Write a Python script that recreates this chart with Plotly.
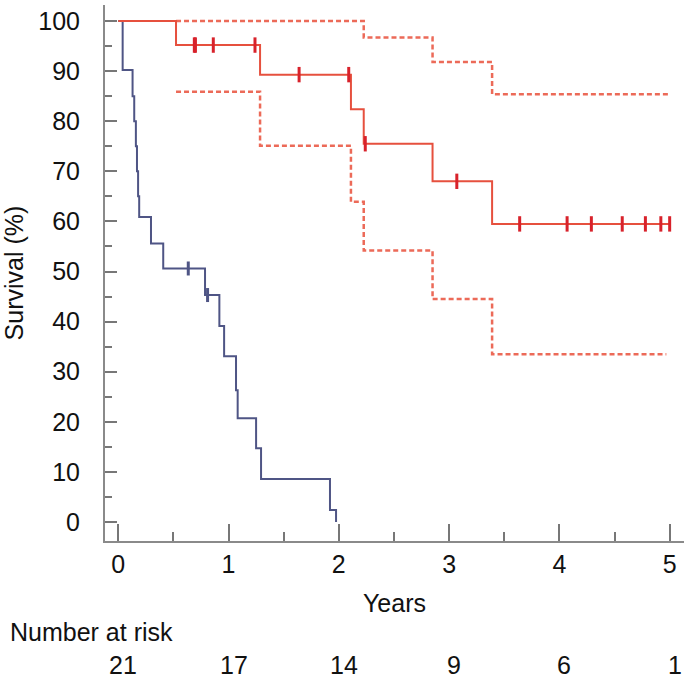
import numpy as np
import plotly.graph_objects as go

# Kaplan-Meier curve, group 1 (red) with 95% CI
red_t = [0, 0.524, 1.286, 2.11, 2.226, 2.85, 3.39, 5.0]
red_s = [100, 95.2, 89.3, 82.4, 75.5, 68.0, 59.5, 59.5]
red_cens = [0.69, 0.70, 0.862, 1.24, 1.64, 2.09, 2.24, 3.07, 3.64, 4.07, 4.29, 4.57, 4.78, 4.92, 5.0]

upper_t = [0.524, 2.226, 2.85, 3.39, 5.0]
upper_s = [100, 96.7, 91.8, 85.4, 85.4]
lower_t = [0.524, 1.286, 2.11, 2.226, 2.85, 3.39, 4.97]
lower_s = [85.9, 75.1, 63.9, 54.2, 44.5, 33.5, 33.5]

# group 2 (blue)
blue_t = [0, 0.04, 0.13, 0.145, 0.16, 0.17, 0.18, 0.19, 0.297, 0.408, 0.787,
          0.917, 0.96, 1.068, 1.083, 1.25, 1.295, 1.92, 1.975]
blue_s = [100, 90.2, 85, 80, 75, 70, 65, 60.9, 55.6, 50.6, 45.3,
          39.1, 33.1, 26.3, 20.7, 14.7, 8.6, 2.4, 0]
blue_cens = [0.635, 0.81]

risk_years = [0, 1, 2, 3, 4, 5]
risk_n = [21, 17, 14, 9, 6, 1]

RED = "#e6503e"
RED_DARK = "#d8222b"
RED_CI = "#ec6a58"
BLUE = "#4f5585"
FONT = "Liberation Sans"
FS = 25


def step_at(ts, ss, q):
    idx = np.searchsorted(ts, q, side="right") - 1
    return [ss[i] for i in idx]


fig = go.Figure()

fig.add_trace(go.Scatter(x=upper_t, y=upper_s, mode="lines", line_shape="hv",
                         line=dict(color=RED_CI, width=2.5, dash="5px,3px")))
fig.add_trace(go.Scatter(x=lower_t, y=lower_s, mode="lines", line_shape="hv",
                         line=dict(color=RED_CI, width=2.5, dash="5px,3px")))
fig.add_trace(go.Scatter(x=blue_t, y=blue_s, mode="lines", line_shape="hv",
                         line=dict(color=BLUE, width=2)))
fig.add_trace(go.Scatter(x=blue_cens, y=step_at(blue_t, blue_s, blue_cens), mode="markers",
                         marker=dict(symbol="line-ns", size=10, line=dict(color=BLUE, width=3))))
fig.add_trace(go.Scatter(x=red_t, y=red_s, mode="lines", line_shape="hv",
                         line=dict(color=RED, width=2)))
fig.add_trace(go.Scatter(x=red_cens, y=step_at(red_t, red_s, red_cens), mode="markers",
                         marker=dict(symbol="line-ns", size=11, line=dict(color=RED_DARK, width=3))))

# number at risk row
for yr, n in zip(risk_years, risk_n):
    fig.add_annotation(x=yr, y=-0.231, xref="x", yref="paper", text=str(n), xshift=5,
                       showarrow=False, font=dict(size=FS, color="#111"), yanchor="middle")
fig.add_annotation(x=-0.1675, y=-0.170, xref="paper", yref="paper",
                   text="Number at risk", showarrow=False, xanchor="left",
                   font=dict(size=FS, color="#111"), yanchor="middle")

fig.update_layout(
    width=688, height=680,
    margin=dict(l=105, r=4, t=5, b=139),
    plot_bgcolor="white", paper_bgcolor="white",
    font=dict(family=FONT, size=FS, color="#111"),
    showlegend=False,
)
fig.update_xaxes(range=[-0.12, 5.13], tickvals=[0, 1, 2, 3, 4, 5],
                 ticks="inside", ticklen=17, tickwidth=2, tickcolor="#777",
                 minor=dict(dtick=0.5, tick0=0, ticks="inside", ticklen=9, tickwidth=2, tickcolor="#777"),
                 showline=True, linecolor="#8a8a8a", linewidth=2, showgrid=False, zeroline=False,
                 ticklabelstandoff=0, automargin=False,
                 title=dict(text="Years", standoff=17, font=dict(size=FS)))
fig.update_yaxes(range=[-3.8, 103.2], tickvals=list(range(0, 101, 10)),
                 ticks="inside", ticklen=12, tickwidth=2, tickcolor="#777",
                 minor=dict(dtick=5, tick0=0, ticks="inside", ticklen=7, tickwidth=2, tickcolor="#777"),
                 showline=True, linecolor="#8a8a8a", linewidth=2, showgrid=False, zeroline=False,
                 ticklabelstandoff=18, automargin=False,
                 title=dict(text="Survival (%)", standoff=10, font=dict(size=FS)))

fig.write_html("out.html", config={"displayModeBar": False},
               post_script="document.body.style.margin='0px';document.body.style.overflow='hidden';")
